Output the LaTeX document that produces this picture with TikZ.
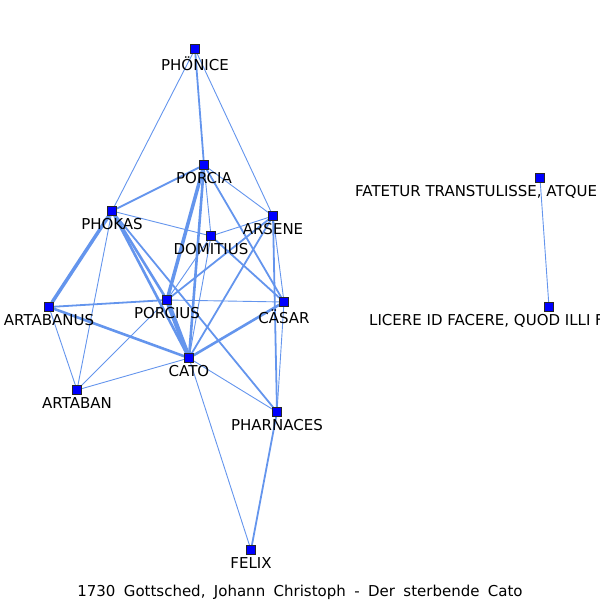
\documentclass[tikz,border=0pt]{standalone}
\usepackage{fontspec}
\setmainfont{DejaVu Sans}
\usetikzlibrary{backgrounds}
\definecolor{edgeblue}{RGB}{100,149,237}
\tikzset{
  actor/.style={draw=black!85, fill=blue, minimum size=9pt, inner sep=0pt, line width=0.6pt},
  lbl/.style={inner sep=0pt, text=black, font=\fontsize{15}{18}\selectfont},
  tie/.style={draw=edgeblue, line cap=round},
  w1/.style={tie, line width=0.9pt},
  w2/.style={tie, line width=1.8pt},
  w3/.style={tie, line width=2.6pt},
  w4/.style={tie, line width=3.5pt},
  w5/.style={tie, line width=4.6pt}
}

\begin{document}
\begin{tikzpicture}[x=1pt, y=-1pt, label distance=2.4pt]
\useasboundingbox (0,0) rectangle (600,600);

% figures
\node[actor, label={[lbl]below:PHÖNICE}] (phonice) at (195,49) {};
\node[actor, label={[lbl]below:PORCIA}] (porcia) at (204,165) {};
\node[actor, label={[lbl]below:PHOKAS}] (phokas) at (112,211) {};
\node[actor, label={[lbl]below:DOMITIUS}] (domitius) at (211,236) {};
\node[actor, label={[lbl]below:ARSENE}] (arsene) at (273,216) {};
\node[actor, label={[lbl]below:ARTABANUS}] (artabanus) at (49,307) {};
\node[actor, label={[lbl]below:PORCIUS}] (porcius) at (167,300) {};
\node[actor, label={[lbl]below:CÄSAR}] (casar) at (284,302) {};
\node[actor, label={[lbl]below:CATO}] (cato) at (189,358) {};
\node[actor, label={[lbl]below:ARTABAN}] (artaban) at (77,390) {};
\node[actor, label={[lbl]below:PHARNACES}] (pharnaces) at (277,412) {};
\node[actor, label={[lbl]below:FELIX}] (felix) at (251,550) {};
\node[actor] (fatetur) at (540,178) {};
\node[actor] (licere) at (549,307) {};
\node[lbl, anchor=north west] (fatetur-l) at (355,185.5) {FATETUR TRANSTULISSE, ATQUE};
\node[lbl, anchor=north west] (licere-l) at (369,314.5) {LICERE ID FACERE, QUOD ILLI F};

% title
\node[lbl, anchor=base] (title) at (300,596.5)
  {\spaceskip=0.56em\relax 1730 Gottsched, Johann Christoph - Der sterbende Cato};

% ties
\begin{pgfonlayer}{background}
\draw[w2] (phonice) -- (porcia);
\draw[w1] (phonice) -- (phokas);
\draw[w1] (phonice) -- (arsene);
\draw[w2] (porcia) -- (phokas);
\draw[w1] (porcia) -- (domitius);
\draw[w1] (porcia) -- (arsene);
\draw[w2] (porcia) -- (casar);
\draw[w4] (porcia) -- (porcius);
\draw[w3] (porcia) -- (cato);
\draw[w1] (phokas) -- (domitius);
\draw[w4] (phokas) -- (artabanus);
\draw[w3] (phokas) -- (porcius);
\draw[w3] (phokas) -- (cato);
\draw[w1] (phokas) -- (artaban);
\draw[w2] (phokas) -- (pharnaces);
\draw[w2] (porcius) -- (artabanus);
\draw[w5] (porcius) -- (cato);
\draw[w1] (porcius) -- (casar);
\draw[w2] (porcius) -- (arsene);
\draw[w1] (porcius) -- (domitius);
\draw[w1] (porcius) -- (artaban);
\draw[w3] (cato) -- (artabanus);
\draw[w1] (cato) -- (artaban);
\draw[w1] (cato) -- (pharnaces);
\draw[w1] (cato) -- (felix);
\draw[w3] (cato) -- (casar);
\draw[w2] (cato) -- (arsene);
\draw[w1] (cato) -- (domitius);
\draw[w1] (artabanus) -- (artaban);
\draw[w1] (arsene) -- (domitius);
\draw[w1] (arsene) -- (casar);
\draw[w2] (arsene) -- (pharnaces);
\draw[w2] (casar) -- (domitius);
\draw[w1] (casar) -- (pharnaces);
\draw[w2] (pharnaces) -- (felix);
\draw[w1] (fatetur) -- (licere);
\end{pgfonlayer}

\end{tikzpicture}
\end{document}
